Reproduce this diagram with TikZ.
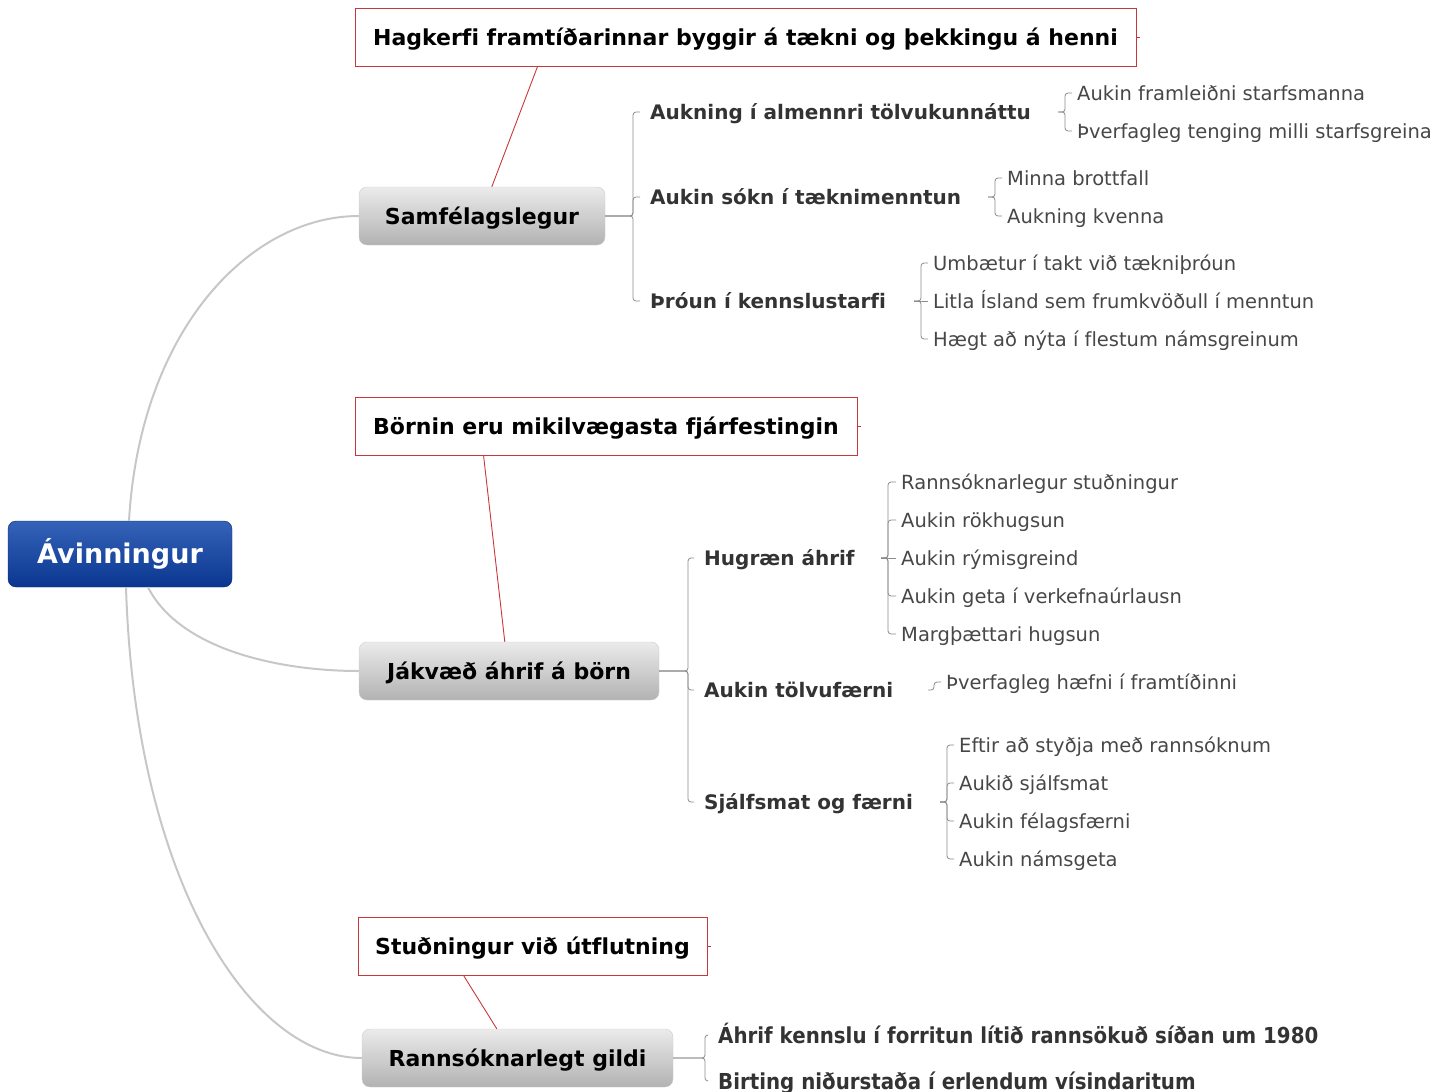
\documentclass[tikz,border=0pt]{standalone}
\usepackage{fontspec}
\setmainfont{DejaVu Sans}[Ligatures=NoCommon]
\newfontfamily\narrowfont[FakeStretch=0.9,Ligatures=NoCommon]{DejaVu Sans}
\usetikzlibrary{calc}

\definecolor{rootTop}{HTML}{3563B8}
\definecolor{rootBot}{HTML}{0A3690}
\definecolor{calloutRed}{HTML}{C8373A}

\tikzset{
  root/.style={rounded corners=8pt, top color=rootTop, bottom color=rootBot, draw=rootBot!80!black,
    text=white, font=\bfseries\fontsize{27}{30}\selectfont, minimum width=224, minimum height=66},
  topic/.style={rounded corners=8pt, top color=black!8, bottom color=black!30, draw=black!20,
    font=\bfseries\fontsize{22}{26}\selectfont, text height=16pt, text depth=0pt, minimum height=58},
  callout/.style={draw=calloutRed, fill=white, line width=0.9pt, text height=16pt, text depth=0pt,
    font=\bfseries\fontsize{22}{26}\selectfont, minimum height=58},
  sub/.style={anchor=west, inner xsep=10, text=black!80, text height=14.6pt, text depth=0pt,
    font=\bfseries\fontsize{20}{24}\selectfont},
  leaf/.style={anchor=west, inner xsep=5, text=black!72, text height=14.2pt, text depth=0pt,
    font=\fontsize{19.5}{23}\selectfont},
  branch/.style={draw=black!22, line width=2pt},
  bracket/.style={draw=black!45, line width=0.8pt, rounded corners=3pt},
  link/.style={draw=calloutRed, line width=0.9pt},
}

\begin{document}
\begin{tikzpicture}[x=1pt,y=-1pt]
    \useasboundingbox (0,0) rectangle (1446,1092);

    % root and curved branches
    \node[root] (avi) at (120,554) {Ávinningur};

    \node[topic, minimum width=246] (sam) at (482,216) {Samfélagslegur};
    \node[topic, minimum width=300] (jak) at (509,671) {Jákvæð áhrif á börn};
    \node[topic, minimum width=311] (ran) at (517.5,1058) {Rannsóknarlegt gildi};

    \draw[branch] ([xshift=9]avi.north) .. controls (140,330) and (250,216) .. (sam.west);
    \draw[branch] ([xshift=28]avi.south) .. controls (180,650) and (280,671) .. (jak.west);
    \draw[branch] ([xshift=6]avi.south) .. controls (135,880) and (250,1058) .. (ran.west);

    % callouts
    \node[callout, minimum width=781] (hag) at (745.5,37) {Hagkerfi framtíðarinnar byggir á tækni og þekkingu á henni};
    \node[callout, minimum width=502] (bor) at (606,426) {Börnin eru mikilvægasta fjárfestingin};
    \node[callout, minimum width=349] (stu) at (532.5,946) {Stuðningur við útflutning};

    \draw[link] ([xshift=183]hag.south west) -- ([xshift=133]sam.north west);
    \draw[link] ([xshift=129]bor.south west) -- ([xshift=146]jak.north west);
    \draw[link] ([xshift=106]stu.south west) -- ([xshift=135]ran.north west);
    \draw[link] (hag.east) -- ++(4,0);
    \draw[link] (bor.east) -- ++(4,0);
    \draw[link] (stu.east) -- ++(4,0);

    % Samfélagslegur
    \node[sub] (a1) at (640,112) {Aukning í almennri tölvukunnáttu};
    \node[sub] (a2) at (640,197) {Aukin sókn í tæknimenntun};
    \node[sub] (a3) at (640,301) {Þróun í kennslustarfi};
    \draw[bracket] (sam.east) -| ([xshift=-7]a1.west) -- (a1.west);
    \draw[bracket] (sam.east) -| ([xshift=-7]a2.west) -- (a2.west);
    \draw[bracket] (sam.east) -| ([xshift=-7]a3.west) -- (a3.west);

    \node[leaf] (a11) at (1072,93) {Aukin framleiðni starfsmanna};
    \node[leaf] (a12) at (1072,131) {Þverfagleg tenging milli starfsgreina};
    \draw[bracket] ($(a11.west |- a1)+(-14,0)$) -- ++(7,0) |- (a11.west);
    \draw[bracket] ($(a12.west |- a1)+(-14,0)$) -- ++(7,0) |- (a12.west);

    \node[leaf] (a21) at (1002,178) {Minna brottfall};
    \node[leaf] (a22) at (1002,216) {Aukning kvenna};
    \draw[bracket] ($(a21.west |- a2)+(-14,0)$) -- ++(7,0) |- (a21.west);
    \draw[bracket] ($(a22.west |- a2)+(-14,0)$) -- ++(7,0) |- (a22.west);

    \node[leaf] (a31) at (928,263) {Umbætur í takt við tækniþróun};
    \node[leaf] (a32) at (928,301) {Litla Ísland sem frumkvöðull í menntun};
    \node[leaf] (a33) at (928,339) {Hægt að nýta í flestum námsgreinum};
    \draw[bracket] ($(a31.west |- a3)+(-14,0)$) -- ++(7,0) |- (a31.west);
    \draw[bracket] ($(a32.west |- a3)+(-14,0)$) -- (a32.west);
    \draw[bracket] ($(a33.west |- a3)+(-14,0)$) -- ++(7,0) |- (a33.west);

    % Jákvæð áhrif á börn
    \node[sub] (j1) at (694,558) {Hugræn áhrif};
    \node[sub] (j2) at (694,690) {Aukin tölvufærni};
    \node[sub] (j3) at (694,802) {Sjálfsmat og færni};
    \draw[bracket] (jak.east) -| ([xshift=-6]j1.west) -- (j1.west);
    \draw[bracket] (jak.east) -| ([xshift=-6]j2.west) -- (j2.west);
    \draw[bracket] (jak.east) -| ([xshift=-6]j3.west) -- (j3.west);

    \node[leaf] (j11) at (896,482) {Rannsóknarlegur stuðningur};
    \node[leaf] (j12) at (896,520) {Aukin rökhugsun};
    \node[leaf] (j13) at (896,558) {Aukin rýmisgreind};
    \node[leaf] (j14) at (896,596) {Aukin geta í verkefnaúrlausn};
    \node[leaf] (j15) at (896,634) {Margþættari hugsun};
    \draw[bracket] ($(j11.west |- j1)+(-15,0)$) -- ++(7,0) |- (j11.west);
    \draw[bracket] ($(j12.west |- j1)+(-15,0)$) -- ++(7,0) |- (j12.west);
    \draw[bracket] ($(j13.west |- j1)+(-15,0)$) -- (j13.west);
    \draw[bracket] ($(j14.west |- j1)+(-15,0)$) -- ++(7,0) |- (j14.west);
    \draw[bracket] ($(j15.west |- j1)+(-15,0)$) -- ++(7,0) |- (j15.west);

    \node[leaf] (j21) at (941,682) {Þverfagleg hæfni í framtíðinni};
    \draw[bracket] ($(j21.west |- j2)+(-13,0)$) -- ++(6,0) |- (j21.west);

    \node[leaf] (j31) at (954,745) {Eftir að styðja með rannsóknum};
    \node[leaf] (j32) at (954,783) {Aukið sjálfsmat};
    \node[leaf] (j33) at (954,821) {Aukin félagsfærni};
    \node[leaf] (j34) at (954,859) {Aukin námsgeta};
    \draw[bracket] ($(j31.west |- j3)+(-14,0)$) -- ++(7,0) |- (j31.west);
    \draw[bracket] ($(j32.west |- j3)+(-14,0)$) -- ++(7,0) |- (j32.west);
    \draw[bracket] ($(j33.west |- j3)+(-14,0)$) -- ++(7,0) |- (j33.west);
    \draw[bracket] ($(j34.west |- j3)+(-14,0)$) -- ++(7,0) |- (j34.west);

    % Rannsóknarlegt gildi
    \node[sub, font=\narrowfont\bfseries\fontsize{22}{26}\selectfont, text height=16pt] (r1) at (708,1035) {Áhrif kennslu í forritun lítið rannsökuð síðan um 1980};
    \node[sub, font=\narrowfont\bfseries\fontsize{22}{26}\selectfont, text height=16pt] (r2) at (708,1081) {Birting niðurstaða í erlendum vísindaritum};
    \draw[bracket] (ran.east) -| ([xshift=-3]r1.west) -- (r1.west);
    \draw[bracket] (ran.east) -| ([xshift=-3]r2.west) -- (r2.west);
\end{tikzpicture}
\end{document}
